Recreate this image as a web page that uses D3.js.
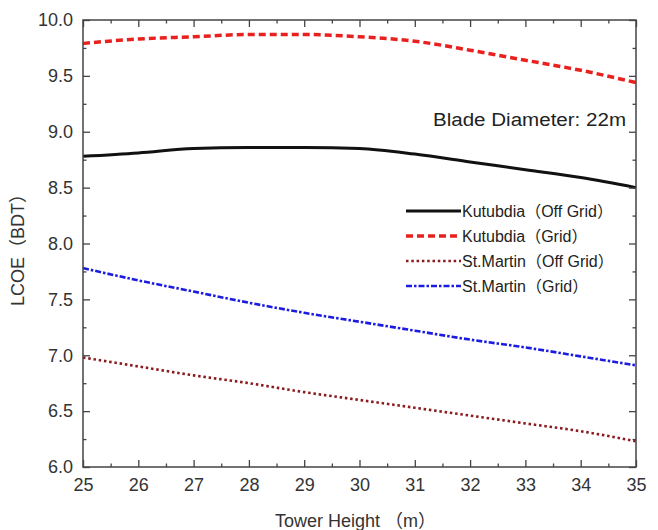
<!DOCTYPE html>
<html>
<head>
<meta charset="utf-8">
<script src="https://cdn.jsdelivr.net/npm/d3@7"></script>
<style>
  body { margin: 0; background: #fff; }
  svg { font-family: "Liberation Sans", Arial, "Noto Sans CJK SC", sans-serif; }
</style>
</head>
<body>
<svg id="chart"></svg>
<script>
// Data
const towerHeight = [25, 26, 27, 28, 29, 30, 31, 32, 33, 34, 35];
const kutubdiaOffGrid = [8.78, 8.81, 8.85, 8.86, 8.86, 8.85, 8.80, 8.73, 8.66, 8.59, 8.50];
const kutubdiaGrid = [9.79, 9.83, 9.85, 9.87, 9.87, 9.85, 9.81, 9.73, 9.64, 9.55, 9.44];
const stMartinOffGrid = [6.98, 6.90, 6.82, 6.75, 6.67, 6.60, 6.53, 6.46, 6.39, 6.32, 6.23];
const stMartinGrid = [7.78, 7.67, 7.57, 7.47, 7.38, 7.30, 7.22, 7.14, 7.07, 6.99, 6.91];
const seriesNames = ["Kutubdia（Off Grid）", "Kutubdia（Grid）", "St.Martin（Off Grid）", "St.Martin（Grid）"];
const yTicks = [6.0, 6.5, 7.0, 7.5, 8.0, 8.5, 9.0, 9.5, 10.0];

const W = 658, H = 530;
const margin = {top: 20, right: 22, bottom: 63, left: 83};
const width = W - margin.left - margin.right,
      height = H - margin.top - margin.bottom;

const svg = d3.select("#chart")
    .attr("width", W)
    .attr("height", H)
  .append("g")
    .attr("transform", `translate(${margin.left},${margin.top})`);

const x = d3.scaleLinear().domain([25, 35]).range([0, width]);
const y = d3.scaleLinear().domain([6, 10]).range([height, 0]);

// line styles for each series
const styles = [
  {values: kutubdiaOffGrid, color: "#111", dash: null, w: 3},
  {values: kutubdiaGrid, color: "#e8211e", dash: "7,4", w: 3.5},
  {values: stMartinOffGrid, color: "#8a1a1e", dash: "2.5,2.8", w: 2.6},
  {values: stMartinGrid, color: "#1c1ce0", dash: "6,2,2.5,2", w: 2.6}
];

const line = d3.line()
    .x(d => x(d[0]))
    .y(d => y(d[1]))
    .curve(d3.curveMonotoneX);

styles.forEach(s => {
  svg.append("path")
      .datum(towerHeight.map((t, i) => [t, s.values[i]]))
      .attr("fill", "none")
      .attr("stroke", s.color)
      .attr("stroke-width", s.w)
      .attr("stroke-dasharray", s.dash)
      .attr("d", line);
});

// Axes: ticks point inward, mirrored on top and right
const axisColor = "#444";
const halfX = d3.range(25.5, 35, 1);
const quarterY = d3.range(6.25, 10, 0.5);

function styleAxis(g) {
  g.select(".domain").remove();
  g.selectAll("line").attr("stroke", axisColor).attr("stroke-width", 1.3);
  g.selectAll("text").attr("fill", "#333").style("font-size", "18px");
}

svg.append("g")
    .attr("transform", `translate(0,${height})`)
    .call(d3.axisBottom(x).tickValues(towerHeight).tickSize(-7).tickPadding(11).tickFormat(d3.format("d")))
    .call(styleAxis);
svg.append("g")
    .attr("transform", `translate(0,${height})`)
    .call(d3.axisBottom(x).tickValues(halfX).tickSize(-3.5).tickFormat(""))
    .call(styleAxis);
svg.append("g")
    .call(d3.axisTop(x).tickValues(towerHeight).tickSize(-7).tickFormat(""))
    .call(styleAxis);
svg.append("g")
    .call(d3.axisTop(x).tickValues(halfX).tickSize(-3.5).tickFormat(""))
    .call(styleAxis);

svg.append("g")
    .call(d3.axisLeft(y).tickValues(yTicks).tickSize(-7).tickPadding(10).tickFormat(d3.format(".1f")))
    .call(styleAxis);
svg.append("g")
    .call(d3.axisLeft(y).tickValues(quarterY).tickSize(-3.5).tickFormat(""))
    .call(styleAxis);
svg.append("g")
    .attr("transform", `translate(${width},0)`)
    .call(d3.axisRight(y).tickValues(yTicks).tickSize(-7).tickFormat(""))
    .call(styleAxis);
svg.append("g")
    .attr("transform", `translate(${width},0)`)
    .call(d3.axisRight(y).tickValues(quarterY).tickSize(-3.5).tickFormat(""))
    .call(styleAxis);

// frame
svg.append("rect")
    .attr("width", width)
    .attr("height", height)
    .attr("fill", "none")
    .attr("stroke", axisColor)
    .attr("stroke-width", 1.5);

// Axis titles
svg.append("text")
    .attr("x", width / 2 - 4)
    .attr("y", height + 60)
    .attr("text-anchor", "middle")
    .attr("fill", "#333")
    .style("font-size", "18px")
    .text("Tower Height （m）");

svg.append("text")
    .attr("transform", `translate(${-59},${height / 2 + 2}) rotate(-90)`)
    .attr("text-anchor", "middle")
    .attr("fill", "#333")
    .style("font-size", "18px")
    .text("LCOE（BDT）");

// Annotation (stretched a little, like the original)
svg.append("text")
    .attr("x", 350)
    .attr("y", 106)
    .attr("textLength", 193)
    .attr("lengthAdjust", "spacingAndGlyphs")
    .attr("fill", "#222")
    .style("font-size", "18px")
    .text("Blade Diameter: 22m");

// Legend
const legend = svg.append("g")
    .attr("transform", "translate(323,191)");

styles.forEach((s, i) => {
  const row = legend.append("g").attr("transform", `translate(0,${i * 25})`);
  row.append("line")
      .attr("x1", 0).attr("x2", 55)
      .attr("stroke", s.color)
      .attr("stroke-width", s.w)
      .attr("stroke-dasharray", s.dash);
  row.append("text")
      .attr("x", 56)
      .attr("dy", "0.35em")
      .attr("fill", "#222")
      .style("font-size", "16px")
      .text(seriesNames[i]);
});
</script>
</body>
</html>
